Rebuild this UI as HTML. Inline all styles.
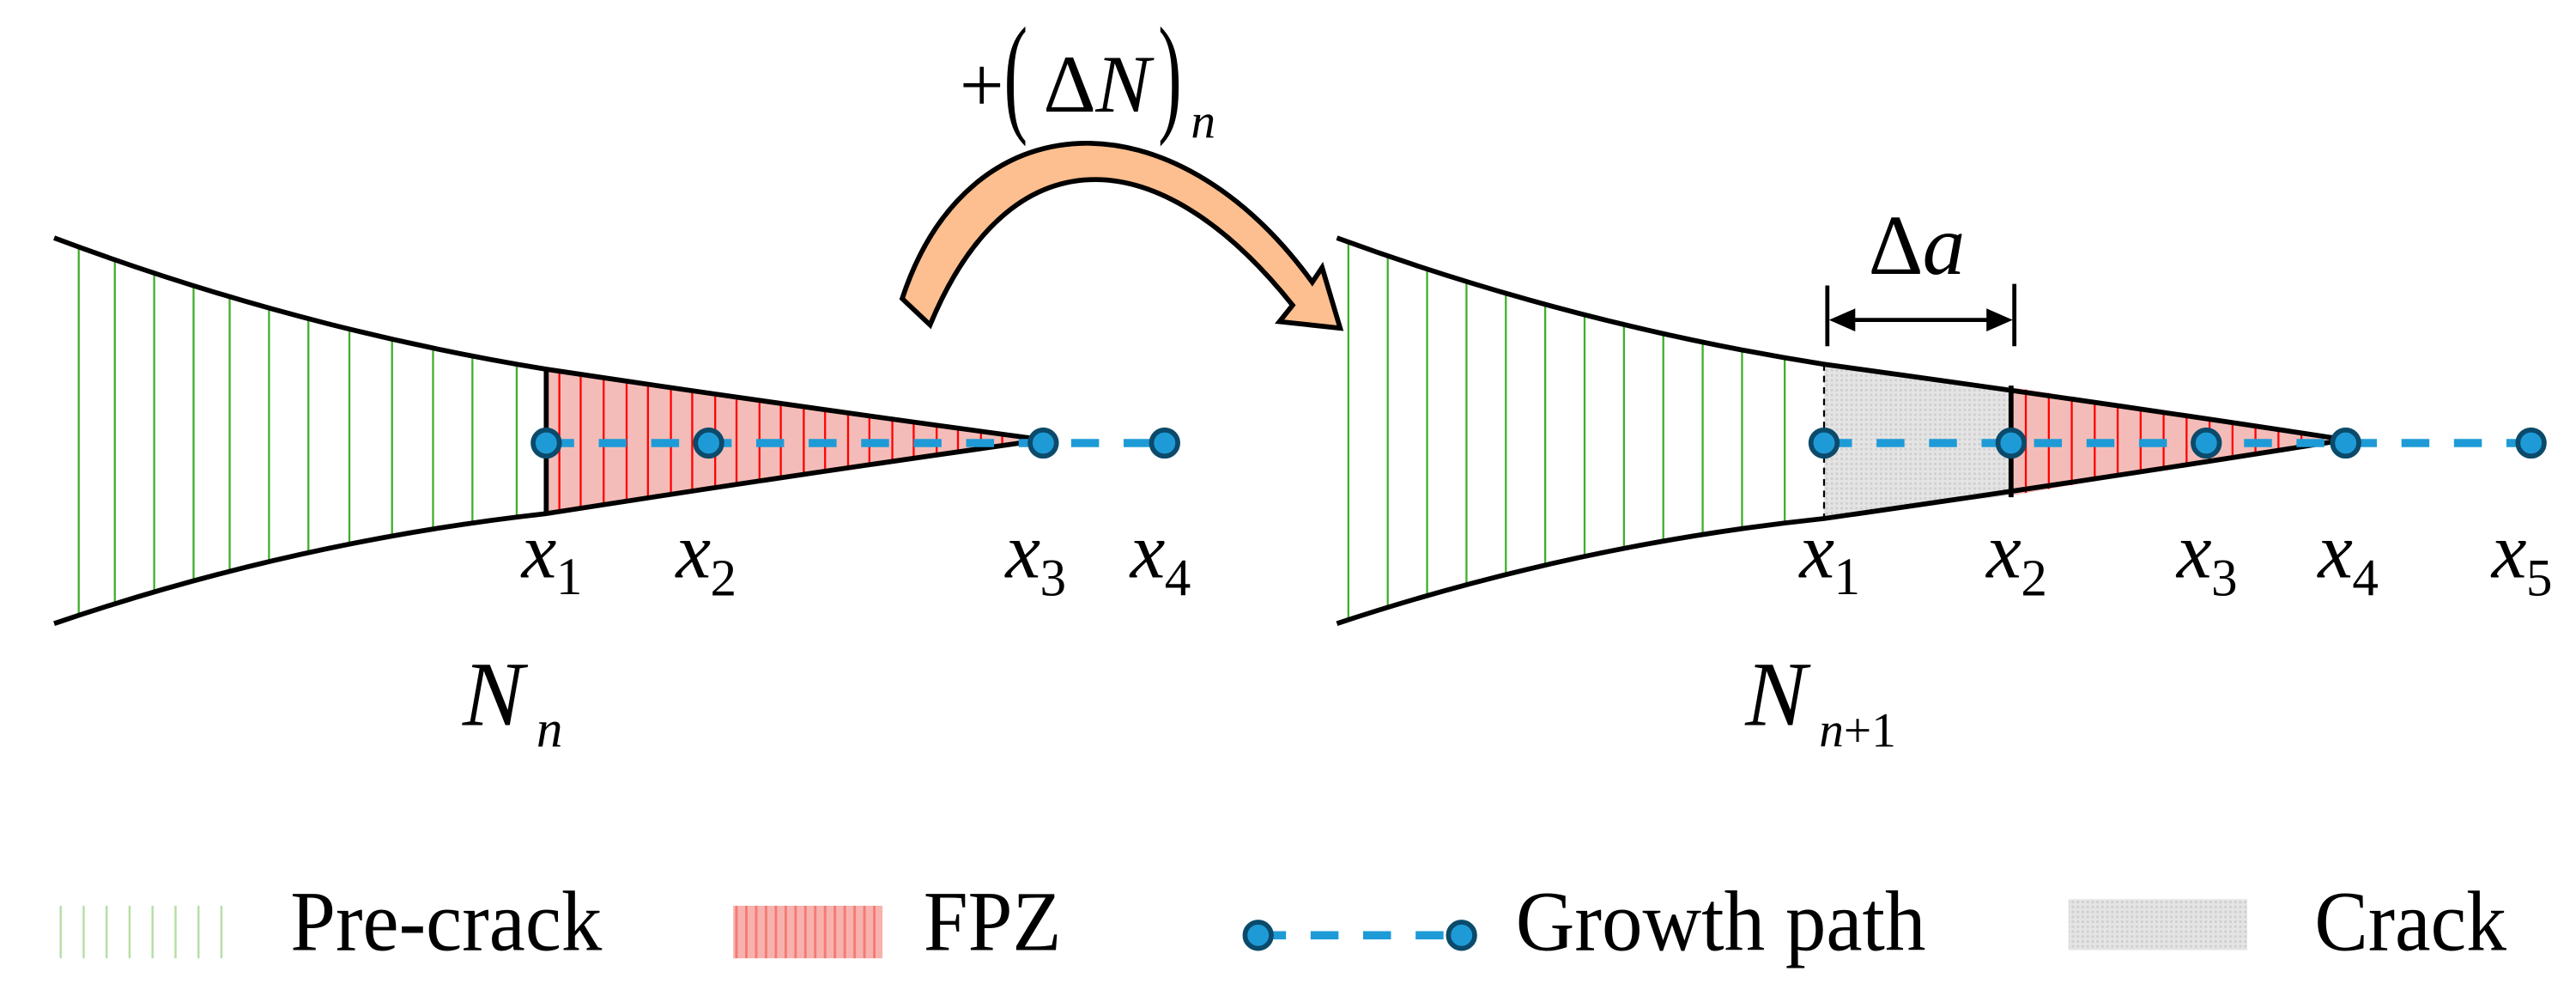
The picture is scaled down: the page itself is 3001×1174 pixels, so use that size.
<!DOCTYPE html>
<html><head><meta charset="utf-8"><style>html,body{margin:0;padding:0;background:#fff}svg{display:block}svg text{font-family:"Liberation Serif",serif}</style></head>
<body>
<svg width="3001" height="1174" viewBox="0 0 1570.4 614.3" preserveAspectRatio="none" xmlns="http://www.w3.org/2000/svg" font-family="Liberation Serif, serif">
<defs>
<clipPath id="lpre"><path d="M33,145 Q180,200 333,225 L333,313 Q180,330 33,380 Z"/></clipPath>
<clipPath id="lfpz"><path d="M333,225 Q480,247 636,268 Q480,290 333,313 Z"/></clipPath>
<clipPath id="rpre"><path d="M815,145 Q960,198 1112,222 L1112,316 Q960,332 815,380 Z"/></clipPath>
<clipPath id="rfpz"><path d="M1226,236 Q1330,252 1430,268 Q1330,284 1226,302 Z"/></clipPath>
<pattern id="dots" width="3" height="3" patternUnits="userSpaceOnUse"><rect width="3" height="3" fill="#e4e4e4"/><rect width="1.5" height="1.5" fill="#cfcfcf"/></pattern>
</defs>

<!-- LEFT SHAPE -->
<g clip-path="url(#lpre)" stroke="#3fae2a" stroke-width="1.2">
<line x1="48" y1="100" x2="48" y2="420"/><line x1="70" y1="100" x2="70" y2="420"/><line x1="94" y1="100" x2="94" y2="420"/><line x1="118" y1="100" x2="118" y2="420"/><line x1="140" y1="100" x2="140" y2="420"/><line x1="164" y1="100" x2="164" y2="420"/><line x1="188" y1="100" x2="188" y2="420"/><line x1="213" y1="100" x2="213" y2="420"/><line x1="239" y1="100" x2="239" y2="420"/><line x1="264" y1="100" x2="264" y2="420"/><line x1="288" y1="100" x2="288" y2="420"/><line x1="315" y1="100" x2="315" y2="420"/>
</g>
<g clip-path="url(#lfpz)">
<rect x="333" y="200" width="310" height="130" fill="#f4bcb8"/>
<g stroke="#ff0000" stroke-width="1.2">
<line x1="341" y1="200" x2="341" y2="330"/><line x1="354" y1="200" x2="354" y2="330"/><line x1="368" y1="200" x2="368" y2="330"/><line x1="382" y1="200" x2="382" y2="330"/><line x1="395" y1="200" x2="395" y2="330"/><line x1="409" y1="200" x2="409" y2="330"/><line x1="422" y1="200" x2="422" y2="330"/><line x1="436" y1="200" x2="436" y2="330"/><line x1="449" y1="200" x2="449" y2="330"/><line x1="463" y1="200" x2="463" y2="330"/><line x1="476" y1="200" x2="476" y2="330"/><line x1="490" y1="200" x2="490" y2="330"/><line x1="503" y1="200" x2="503" y2="330"/><line x1="517" y1="200" x2="517" y2="330"/><line x1="530" y1="200" x2="530" y2="330"/><line x1="544" y1="200" x2="544" y2="330"/><line x1="557" y1="200" x2="557" y2="330"/><line x1="571" y1="200" x2="571" y2="330"/><line x1="584" y1="200" x2="584" y2="330"/><line x1="598" y1="200" x2="598" y2="330"/><line x1="611" y1="200" x2="611" y2="330"/>
</g></g>
<g fill="none" stroke="#000" stroke-width="3">
<path d="M33,145 Q180,200 333,225 Q480,247 636,268"/>
<path d="M33,380 Q180,330 333,313 Q480,290 636,268"/>
<line x1="333" y1="224" x2="333" y2="314"/>
</g>
<line x1="333" y1="270" x2="710" y2="270" stroke="#1e9bd7" stroke-width="5" stroke-dasharray="17,15"/>
<g fill="#1e9bd7" stroke="#0b4a6b" stroke-width="3">
<circle cx="333" cy="270" r="8"/><circle cx="432" cy="270" r="8"/><circle cx="636" cy="270" r="8"/><circle cx="710" cy="270" r="8"/>
</g>
<g font-style="italic" font-size="48">
<text x="318" y="352">x</text><text x="412" y="352">x</text><text x="613" y="352">x</text><text x="689" y="352">x</text>
</g>
<g font-size="32">
<text x="339" y="362">1</text><text x="433" y="363">2</text><text x="634" y="363">3</text><text x="710" y="363">4</text>
</g>
<text x="282" y="442" font-size="56" font-style="italic">N</text>
<text x="327" y="455" font-size="32" font-style="italic">n</text>

<!-- ARROW -->
<path d="M550,182 C590,60 715,55 800,172 L806,163 L817,200 L780,196 L788,186 C705,82 615,82 567,198 Z" fill="#fdbf8f" stroke="#000" stroke-width="3" stroke-linejoin="miter"/>
<text x="585" y="68" font-size="48">+</text>
<text x="612" y="72" font-size="62" transform="translate(612,72) scale(0.7,1.3) translate(-612,-72)">(</text>
<text x="636" y="68" font-size="50">Δ</text>
<text x="668" y="68" font-size="50" font-style="italic">N</text>
<text x="706" y="72" transform="translate(706,72) scale(0.7,1.3) translate(-706,-72)" font-size="62">)</text>
<text x="726" y="84" font-size="30" font-style="italic">n</text>

<!-- RIGHT SHAPE -->
<g clip-path="url(#rpre)" stroke="#3fae2a" stroke-width="1.2">
<line x1="822" y1="100" x2="822" y2="420"/><line x1="846" y1="100" x2="846" y2="420"/><line x1="870" y1="100" x2="870" y2="420"/><line x1="894" y1="100" x2="894" y2="420"/><line x1="918" y1="100" x2="918" y2="420"/><line x1="942" y1="100" x2="942" y2="420"/><line x1="966" y1="100" x2="966" y2="420"/><line x1="990" y1="100" x2="990" y2="420"/><line x1="1014" y1="100" x2="1014" y2="420"/><line x1="1038" y1="100" x2="1038" y2="420"/><line x1="1062" y1="100" x2="1062" y2="420"/><line x1="1088" y1="100" x2="1088" y2="420"/>
</g>
<path d="M1112,222 Q1170,230 1226,236 L1226,302 Q1170,308 1112,316 Z" fill="url(#dots)"/>
<g clip-path="url(#rfpz)">
<rect x="1226" y="220" width="210" height="100" fill="#f4bcb8"/>
<g stroke="#ff0000" stroke-width="1.2">
<line x1="1235" y1="220" x2="1235" y2="320"/><line x1="1249" y1="220" x2="1249" y2="320"/><line x1="1263" y1="220" x2="1263" y2="320"/><line x1="1277" y1="220" x2="1277" y2="320"/><line x1="1291" y1="220" x2="1291" y2="320"/><line x1="1305" y1="220" x2="1305" y2="320"/><line x1="1319" y1="220" x2="1319" y2="320"/><line x1="1333" y1="220" x2="1333" y2="320"/><line x1="1347" y1="220" x2="1347" y2="320"/><line x1="1361" y1="220" x2="1361" y2="320"/><line x1="1375" y1="220" x2="1375" y2="320"/><line x1="1389" y1="220" x2="1389" y2="320"/><line x1="1403" y1="220" x2="1403" y2="320"/>
</g></g>
<g fill="none" stroke="#000" stroke-width="3">
<path d="M815,145 Q960,198 1112,222 Q1280,245 1430,268"/>
<path d="M815,380 Q960,332 1112,316 Q1280,292 1430,268"/>
<line x1="1226" y1="235" x2="1226" y2="303"/>
</g>
<line x1="1112" y1="222" x2="1112" y2="316" stroke="#000" stroke-width="1.2" stroke-dasharray="4,3"/>
<line x1="1112" y1="270" x2="1543" y2="270" stroke="#1e9bd7" stroke-width="5" stroke-dasharray="17,15"/>
<g fill="#1e9bd7" stroke="#0b4a6b" stroke-width="3">
<circle cx="1112" cy="270" r="8"/><circle cx="1226" cy="270" r="8"/><circle cx="1345" cy="270" r="8"/><circle cx="1430" cy="270" r="8"/><circle cx="1543" cy="270" r="8"/>
</g>
<g font-style="italic" font-size="48">
<text x="1097" y="352">x</text><text x="1211" y="352">x</text><text x="1327" y="352">x</text><text x="1413" y="352">x</text><text x="1519" y="352">x</text>
</g>
<g font-size="32">
<text x="1118" y="362">1</text><text x="1232" y="363">2</text><text x="1348" y="363">3</text><text x="1434" y="363">4</text><text x="1540" y="363">5</text>
</g>
<text x="1064" y="442" font-size="56" font-style="italic">N</text>
<text x="1109" y="455" font-size="30" font-style="italic">n</text>
<text x="1124" y="455" font-size="30">+1</text>
<!-- delta a -->
<g stroke="#000" stroke-width="2.5">
<line x1="1114" y1="174" x2="1114" y2="211"/><line x1="1228" y1="173" x2="1228" y2="211"/>
<line x1="1125" y1="195" x2="1217" y2="195"/>
</g>
<path d="M1115,195 L1131,188 L1131,202 Z M1227,195 L1211,188 L1211,202 Z" fill="#000"/>
<text x="1139" y="167" font-size="52">Δ</text>
<text x="1172" y="167" font-size="52" font-style="italic">a</text>

<!-- LEGEND -->
<g stroke="#b6dfa6" stroke-width="1.3">
<line x1="37" y1="552" x2="37" y2="584"/><line x1="51" y1="552" x2="51" y2="584"/><line x1="65" y1="552" x2="65" y2="584"/><line x1="79" y1="552" x2="79" y2="584"/><line x1="93" y1="552" x2="93" y2="584"/><line x1="107" y1="552" x2="107" y2="584"/><line x1="121" y1="552" x2="121" y2="584"/><line x1="135" y1="552" x2="135" y2="584"/>
</g>
<text transform="translate(177,579) scale(1,1.3)" font-size="40" textLength="190" lengthAdjust="spacingAndGlyphs">Pre-crack</text>
<rect x="447" y="552" width="91" height="32" fill="#f7b2ae"/>
<g stroke="#f47a75" stroke-width="1.5">
<line x1="449" y1="552" x2="449" y2="584"/><line x1="455" y1="552" x2="455" y2="584"/><line x1="461" y1="552" x2="461" y2="584"/><line x1="467" y1="552" x2="467" y2="584"/><line x1="473" y1="552" x2="473" y2="584"/><line x1="479" y1="552" x2="479" y2="584"/><line x1="485" y1="552" x2="485" y2="584"/><line x1="491" y1="552" x2="491" y2="584"/><line x1="497" y1="552" x2="497" y2="584"/><line x1="503" y1="552" x2="503" y2="584"/><line x1="509" y1="552" x2="509" y2="584"/><line x1="515" y1="552" x2="515" y2="584"/><line x1="521" y1="552" x2="521" y2="584"/><line x1="527" y1="552" x2="527" y2="584"/><line x1="533" y1="552" x2="533" y2="584"/>
</g>
<text transform="translate(563,579) scale(1,1.3)" font-size="40" textLength="84" lengthAdjust="spacingAndGlyphs">FPZ</text>
<line x1="767" y1="570" x2="891" y2="570" stroke="#1e9bd7" stroke-width="5" stroke-dasharray="17,15"/>
<circle cx="767" cy="570" r="8" fill="#1e9bd7" stroke="#0b4a6b" stroke-width="3"/>
<circle cx="891" cy="570" r="8" fill="#1e9bd7" stroke="#0b4a6b" stroke-width="3"/>
<text transform="translate(924,579) scale(1,1.3)" font-size="40" textLength="250" lengthAdjust="spacingAndGlyphs">Growth path</text>
<rect x="1261" y="548" width="109" height="31" fill="url(#dots)"/>
<text transform="translate(1411,579) scale(1,1.3)" font-size="40" textLength="117" lengthAdjust="spacingAndGlyphs">Crack</text>
</svg>
</body></html>
